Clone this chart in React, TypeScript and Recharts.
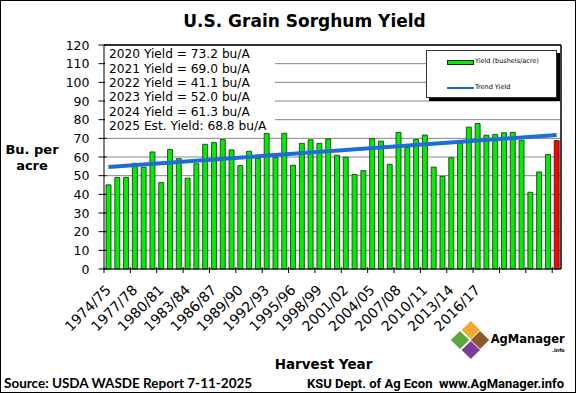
import React from "react";
import {
  ComposedChart,
  Bar,
  Line,
  XAxis,
  YAxis,
  CartesianGrid,
  Legend,
  Cell,
} from "recharts";

// marketing years shown on the category axis
const seasons = [
  "1974/75", "1975/76", "1976/77", "1977/78", "1978/79", "1979/80", "1980/81", "1981/82",
  "1982/83", "1983/84", "1984/85", "1985/86", "1986/87", "1987/88", "1988/89", "1989/90",
  "1990/91", "1991/92", "1992/93", "1993/94", "1994/95", "1995/96", "1996/97", "1997/98",
  "1998/99", "1999/00", "2000/01", "2001/02", "2002/03", "2003/04", "2004/05", "2005/06",
  "2006/07", "2007/08", "2008/09", "2009/10", "2010/11", "2011/12", "2012/13", "2013/14",
  "2014/15", "2015/16", "2016/17", "2017/18", "2018/19", "2019/20", "2020/21", "2021/22",
  "2022/23", "2023/24", "2024/25", "2025/26",
];

// yield, bushels per acre
const yields = [
  45.1, 49.0, 49.1, 56.6, 54.5, 62.7, 46.3, 64.0, 59.1, 48.7,
  56.4, 66.8, 67.7, 69.4, 63.8, 55.4, 63.1, 59.3, 72.6, 59.9,
  72.7, 55.6, 67.3, 69.2, 67.3, 69.7, 60.9, 59.9, 50.6, 52.7,
  69.8, 68.5, 56.1, 73.2, 65.0, 69.4, 71.8, 54.6, 49.6, 59.6,
  67.6, 76.0, 77.9, 71.7, 72.1, 73.0, 73.2, 69.0, 41.1, 52.0,
  61.3, 68.8,
];

// trend line end points (first and last season)
const trendStart = 54.7;
const trendEnd = 71.8;

// labels printed under the axis (source sheet stops at 2016/17)
const shownLabels = [
  "1974/75", "1977/78", "1980/81", "1983/84", "1986/87", "1989/90", "1992/93", "1995/96",
  "1998/99", "2001/02", "2004/05", "2007/08", "2010/11", "2013/14", "2016/17",
];
// tick marks every third season
const markSeasons = seasons.filter((_, i) => i % 3 === 0);
const yTicks = [0, 10, 20, 30, 40, 50, 60, 70, 80, 90, 100, 110, 120];

const notes = [
  "2020 Yield = 73.2 bu/A",
  "2021 Yield = 69.0 bu/A",
  "2022 Yield = 41.1 bu/A",
  "2023 Yield = 52.0 bu/A",
  "2024 Yield = 61.3 bu/A",
  "2025 Est. Yield: 68.8 bu/A",
];

const data = seasons.map((s, i) => ({
  season: s,
  yield: yields[i],
  trend: i === 0 ? trendStart : i === seasons.length - 1 ? trendEnd : null,
}));

const FONT = "'DejaVu Sans', Verdana, sans-serif";
const W = 576;
const H = 393;
const M = { top: 45, right: 15, bottom: 64, left: 0 };
const Y_AXIS_W = 104;
const STEP = (W - M.left - M.right - Y_AXIS_W) / seasons.length;

function SeasonTick(props: any) {
  const { x, y, payload } = props;
  const tx = x + 3.5;
  const ty = y + 22;
  const edge = x - STEP / 2;
  return (
    <g>
      <line x1={edge} x2={edge} y1={y - 2} y2={y + 4} stroke="#000" />
      {shownLabels.includes(payload.value) && (
        <text
          x={tx}
          y={ty}
          transform={`rotate(-45, ${tx}, ${ty})`}
          textAnchor="end"
          fontSize={14}
          fontFamily={FONT}
          fill="#000"
        >
          {payload.value}
        </text>
      )}
    </g>
  );
}

function YTick(props: any) {
  const { x, y, payload } = props;
  return (
    <g>
      <line x1={x + 9} x2={x + 17} y1={y} y2={y} stroke="#000" />
      <text x={x} y={y} dy={4.5} textAnchor="end" fontSize={12.5} fontFamily={FONT} fill="#000">
        {payload.value}
      </text>
    </g>
  );
}

function LegendBox() {
  return (
    <div
      style={{
        width: 131,
        height: 48,
        boxSizing: "border-box",
        border: "1px solid #333",
        background: "#fff",
        boxShadow: "3px 3px 0 #000",
        position: "relative",
        fontFamily: FONT,
        fontSize: 6.5,
        textAlign: "left",
      }}
    >
      <div style={{ position: "absolute", left: 20, top: 9, width: 25, height: 3, background: "#00ee00", border: "1px solid #222" }} />
      <div style={{ position: "absolute", left: 48, top: 6, whiteSpace: "nowrap" }}>Yield (bushels/acre)</div>
      <div style={{ position: "absolute", left: 20, top: 36, width: 27, height: 2, background: "#1a6fd0" }} />
      <div style={{ position: "absolute", left: 48, top: 32, whiteSpace: "nowrap" }}>Trend Yield</div>
    </div>
  );
}

export default function App() {
  return (
    <div style={{ position: "absolute", left: 0, top: 0, width: W, height: H, background: "#fff" }}>
      <ComposedChart width={W} height={H} data={data} margin={M}>
        <CartesianGrid vertical={false} stroke="#858585" />
        <XAxis
          dataKey="season"
          ticks={markSeasons}
          interval={0}
          tickLine={false}
          tickSize={0}
          tickMargin={0}
          axisLine={{ stroke: "#000" }}
          height={60}
          tick={<SeasonTick />}
        />
        <YAxis
          domain={[0, 120]}
          ticks={yTicks}
          interval={0}
          width={Y_AXIS_W}
          tickLine={false}
          tickSize={0}
          tickMargin={14.5}
          axisLine={{ stroke: "#000" }}
          tick={<YTick />}
        />
        <Legend
          layout="horizontal"
          verticalAlign="middle"
          align="center"
          content={() => <LegendBox />}
          wrapperStyle={{ position: "absolute", left: 426, top: 50, width: 131, height: 48 }}
        />
        <Bar dataKey="yield" name="Yield (bushels/acre)" barSize={5} stroke="#222" strokeWidth={0.8} isAnimationActive={false}>
          {data.map((d, i) => (
            <Cell key={d.season} fill={i === data.length - 1 ? "#ff0000" : "#00ee00"} />
          ))}
        </Bar>
        <Line
          dataKey="trend"
          name="Trend Yield"
          connectNulls
          stroke="#1a6fd0"
          strokeWidth={4}
          dot={false}
          activeDot={false}
          isAnimationActive={false}
        />
      </ComposedChart>

      <svg width={W} height={H} style={{ position: "absolute", left: 0, top: 0, pointerEvents: "none" }}>
        {/* plot frame top and right */}
        <line x1={104} x2={561} y1={45} y2={45} stroke="#000" strokeWidth={1.5} />
        <line x1={561} x2={561} y1={45} y2={269} stroke="#000" strokeWidth={1.5} />

        <rect x={105} y={46} width={170} height={86} fill="#fff" />
        {notes.map((n, i) => (
          <text key={n} x={109} y={58.3 + i * 14.35} fontSize={12.2} fontFamily={FONT} fill="#000">
            {n}
          </text>
        ))}

        <text x={304.5} y={26.5} textAnchor="middle" fontSize={17} fontWeight="bold" fontFamily={FONT}>
          U.S. Grain Sorghum Yield
        </text>
        <text x={32} y={154} textAnchor="middle" fontSize={13} fontWeight="bold" fontFamily={FONT}>
          Bu. per
        </text>
        <text x={32} y={170} textAnchor="middle" fontSize={13} fontWeight="bold" fontFamily={FONT}>
          acre
        </text>
        <text x={323.5} y={369} textAnchor="middle" fontSize={13.5} fontWeight="bold" fontFamily={FONT}>
          Harvest Year
        </text>
        <text x={4} y={388} fontSize={13.5} fontWeight="bold" fontFamily="Lato, sans-serif">
          Source: USDA WASDE Report 7-11-2025
        </text>
        <text x={307} y={388} fontSize={13} fontWeight="bold" fontFamily="Roboto, sans-serif">
          KSU Dept. of Ag Econ{"\u00a0\u00a0"}www.AgManager.info
        </text>

        {/* AgManager logo */}
        <polygon points="470.8,321 480,330 470.8,339 461.6,330" fill="#f0a830" />
        <polygon points="460,331 469.2,340 460,349 450.8,340" fill="#5aa83c" />
        <polygon points="480,331 489.2,340 480,349 470.8,340" fill="#8b5a2b" />
        <polygon points="470.8,341 480,350 470.8,359 461.6,350" fill="#7d3c98" />
        <text x={490.7} y={343.3} fontSize={11.5} fontWeight="bold" fontFamily={FONT}>
          AgManager
        </text>
        <text x={552} y={352} fontSize={5} fontWeight="bold" fontFamily={FONT}>
          .info
        </text>

        <rect x={0.5} y={0.5} width={575} height={392} fill="none" stroke="#000" />
      </svg>
    </div>
  );
}
